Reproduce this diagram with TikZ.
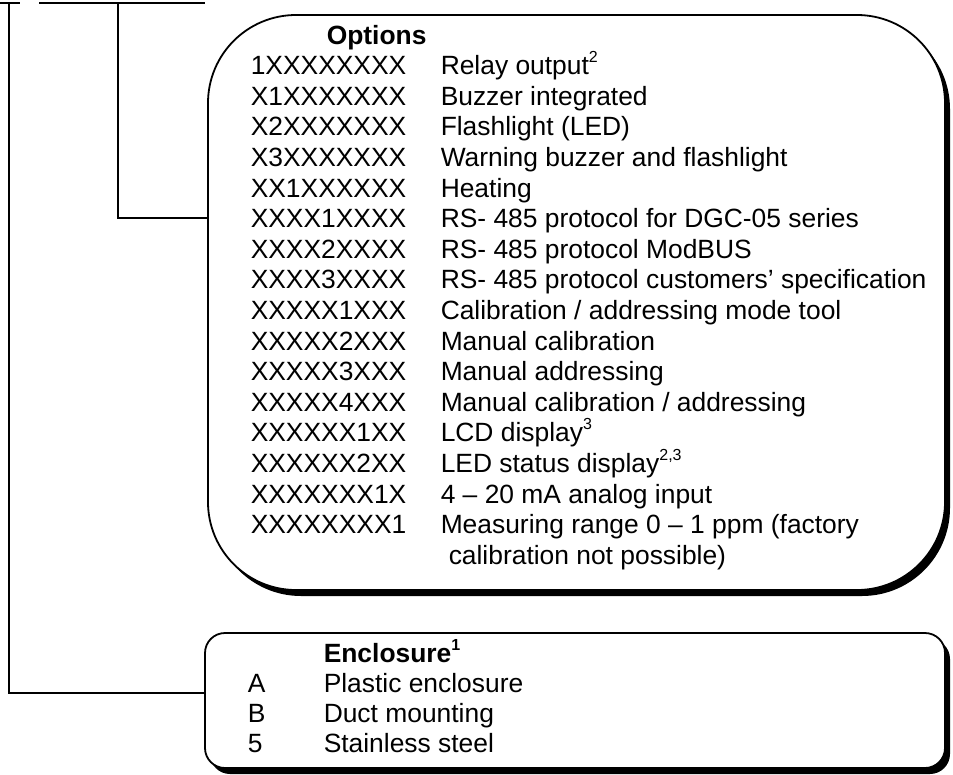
\documentclass[tikz,border=0pt]{standalone}
\usepackage{fontspec}
\setmainfont{Liberation Sans}
\usetikzlibrary{shadows}
\newcommand{\fnmark}[1]{\raisebox{0.45em}{\fontsize{16}{16}\selectfont #1}}

\begin{document}
\begin{tikzpicture}[x=1pt, y=-1pt, line width=1.5pt,
    txt/.style={anchor=base west, inner sep=0pt, font=\fontsize{26.4}{30.6}\selectfont},
    optbox/.style={draw, fill=white, line width=1.8pt,
      drop shadow={shadow xshift=5pt, shadow yshift=-6pt, opacity=1, fill=black}}]
    \useasboundingbox (0,0) rectangle (953,774);
    % ordering code brackets, cut off at the top
    \coordinate (bar1w) at (0,3);
    \coordinate (bar1e) at (20,3);
    \coordinate (bar2w) at (39,3);
    \coordinate (bar2e) at (205,3);
    \coordinate (drop1) at (9,3);
    \coordinate (drop2) at (118,3);

    \node[optbox, minimum width=737pt, minimum height=575pt, rounded corners=88pt]
      (options) at (576.5,302.5) {};
    \node[optbox, minimum width=740pt, minimum height=135pt, rounded corners=20pt]
      (encl) at (575,700.5) {};

    \draw (bar1w) -- (bar1e);
    \draw (bar2w) -- (bar2e);
    \draw (drop2) |- (options.west |- 0,218);
    \draw (drop1) |- (encl.west |- 0,693);

    % options list
    \node[txt] (opthead) at (326,44) {\bfseries Options};
    \foreach \code/\desc [count=\i] in {
        1XXXXXXXX/{Relay output\fnmark{2}},
        X1XXXXXXX/{Buzzer integrated},
        X2XXXXXXX/{Flashlight (LED)},
        X3XXXXXXX/{Warning buzzer and flashlight},
        XX1XXXXXX/{Heating},
        XXXX1XXXX/{RS- 485 protocol for DGC-05 series},
        XXXX2XXXX/{RS- 485 protocol ModBUS},
        XXXX3XXXX/{RS- 485 protocol customers’ specification},
        XXXXX1XXX/{Calibration / addressing mode tool},
        XXXXX2XXX/{Manual calibration},
        XXXXX3XXX/{Manual addressing},
        XXXXX4XXX/{Manual calibration / addressing},
        XXXXXX1XX/{LCD display\fnmark{3}},
        XXXXXX2XX/{LED status display\fnmark{2,3}},
        XXXXXXX1X/{4 – 20 mA analog input},
        XXXXXXXX1/{Measuring range 0 – 1 ppm (factory}} {
      \node[txt] (code\i) at (250,{44+30.6*\i}) {\code};
      \node[txt] (desc\i) at (440,{44+30.6*\i}) {\desc};
    }
    \node[txt] (desc16b) at (448,{44+30.6*17}) {calibration not possible)};

    % enclosure list
    \node[txt] (enchead) at (323,662) {\bfseries Enclosure\fnmark{1}};
    \foreach \code/\desc [count=\i] in {A/Plastic enclosure, B/Duct mounting, 5/Stainless steel} {
      \node[txt] (ecode\i) at (247,{662+30*\i}) {\code};
      \node[txt] (edesc\i) at (323,{662+30*\i}) {\desc};
    }
\end{tikzpicture}
\end{document}
